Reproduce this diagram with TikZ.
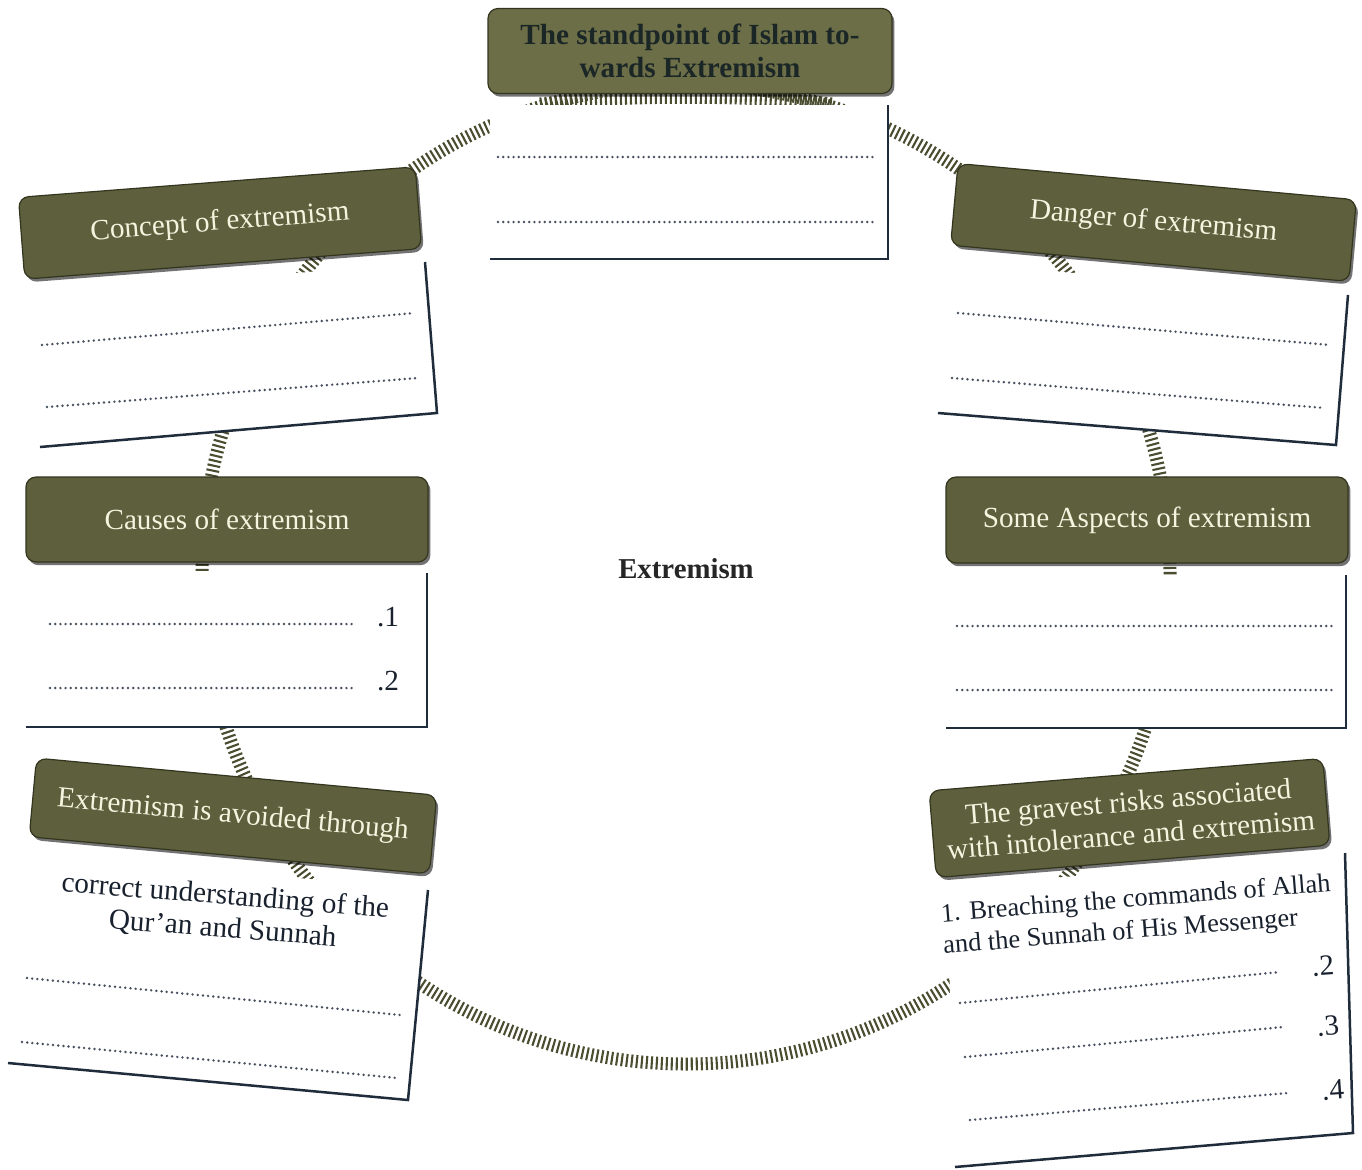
\documentclass[tikz,border=0pt]{standalone}
\usepackage{fontspec}
\setmainfont{Liberation Serif}
\usetikzlibrary{shadows}

\definecolor{tickcol}{HTML}{4B4D30}
\definecolor{boxolive}{HTML}{5D5F3D}
\definecolor{titleolive}{HTML}{6C6E47}
\definecolor{boxedge}{HTML}{34351F}
\definecolor{boxtext}{HTML}{F6F3DF}
\definecolor{framecol}{HTML}{1F2C3B}
\definecolor{dotcol}{HTML}{48505F}
\definecolor{inkcol}{HTML}{18212D}
\definecolor{titleink}{HTML}{1B2626}

\begin{document}
\begin{tikzpicture}[x=0.5pt,y=-0.5pt,
  ring/.style={draw=tickcol, line width=6.5pt, dash pattern=on 1.05pt off 1.45pt},
  frame/.style={draw=framecol, line width=1.25pt, line join=miter},
  dotline/.style={draw=dotcol, line width=1.35pt, line cap=round, dash pattern=on 0pt off 2.6pt},
  obox/.style={rectangle, rounded corners=5pt, fill=boxolive, draw=boxedge, line width=0.6pt,
    text=boxtext, align=center, inner sep=2pt,
    font={\fontsize{14.6pt}{16.5pt}\selectfont},
    drop shadow={shadow xshift=1.2pt, shadow yshift=-1.6pt, opacity=0.55, fill=black}},
  anstext/.style={text=inkcol, font={\fontsize{14.6pt}{16.5pt}\selectfont}, inner sep=0pt},
  numlabel/.style={text=inkcol, font={\fontsize{14.6pt}{16pt}\selectfont}, inner sep=0pt}]

\useasboundingbox (0,0) rectangle (1362,1169);
\fill[white] (0,0) rectangle (1362,1169);

% ---- the hatched ring linking all topics ----
\draw[ring] (686,574) ellipse [x radius=242pt, y radius=245pt];
\draw[ring] (540,104) .. controls (620,95) and (752,95) .. (832,104);

% ---- answer panels (white, with an L-shaped frame) ----
% standpoint
\coordinate (t0) at (490,105); \coordinate (t1) at (888,105);
\coordinate (t2) at (888,259); \coordinate (t3) at (490,259);
\fill[white] (t0) -- (t1) -- (t2) -- (t3) -- cycle;
\draw[frame] (t1) -- (t2) -- (t3);
\draw[dotline] (498,157) -- (876,157);
\draw[dotline] (498,222) -- (876,222);

% concept
\coordinate (c0) at (28,296); \coordinate (c1) at (425,262);
\coordinate (c2) at (437,413); \coordinate (c3) at (40,447);
\fill[white] (c0) -- (c1) -- (c2) -- (c3) -- cycle;
\draw[frame] (c1) -- (c2) -- (c3);
\draw[dotline] (42,345) -- (415,313);
\draw[dotline] (47,407) -- (418,378);

% danger
\coordinate (d0) at (950,263); \coordinate (d1) at (1348,295);
\coordinate (d2) at (1336,445); \coordinate (d3) at (938,413);
\fill[white] (d0) -- (d1) -- (d2) -- (d3) -- cycle;
\draw[frame] (d1) -- (d2) -- (d3);
\draw[dotline] (958,313) -- (1330,345);
\draw[dotline] (952,378) -- (1325,408);

% causes
\coordinate (k0) at (26,573); \coordinate (k1) at (427,573);
\coordinate (k2) at (427,727); \coordinate (k3) at (26,727);
\fill[white] (k0) -- (k1) -- (k2) -- (k3) -- cycle;
\draw[frame] (k1) -- (k2) -- (k3);
\draw[dotline] (50,624) -- (352,624);
\draw[dotline] (50,688) -- (352,688);
\node[numlabel] (k-n1) at (388,617) {.1};
\node[numlabel] (k-n2) at (388,681) {.2};

% aspects
\coordinate (s0) at (946,575); \coordinate (s1) at (1346,575);
\coordinate (s2) at (1346,728); \coordinate (s3) at (946,728);
\fill[white] (s0) -- (s1) -- (s2) -- (s3) -- cycle;
\draw[frame] (s1) -- (s2) -- (s3);
\draw[dotline] (957,626) -- (1333,626);
\draw[dotline] (957,690) -- (1333,690);

% avoided through
\coordinate (v0) at (28,853); \coordinate (v1) at (428,890);
\coordinate (v2) at (408,1100); \coordinate (v3) at (8,1063);
\fill[white] (v0) -- (v1) -- (v2) -- (v3) -- cycle;
\draw[frame] (v1) -- (v2) -- (v3);
\node[anstext, align=center, rotate=-4.5] (v-text) at (224,913)
  {correct understanding of the\\Qur’an and Sunnah};
\draw[dotline] (27,978) -- (400,1015);
\draw[dotline] (22,1042) -- (397,1078);

% gravest risks
\coordinate (g0) at (947,887); \coordinate (g1) at (1345,853);
\coordinate (g2) at (1353,1133); \coordinate (g3) at (955,1167);
\fill[white] (g0) -- (g1) -- (g2) -- (g3) -- cycle;
\draw[frame] (g1) -- (g2) -- (g3);
\node[anstext, align=left, rotate=4.5, font={\fontsize{13.2pt}{15.8pt}\selectfont}] (g-text) at (1137,916)
  {1. Breaching the commands of Allah\\and the Sunnah of His Messenger};
\draw[dotline] (960,1003) -- (1280,972);
\draw[dotline] (965,1057) -- (1283,1027);
\draw[dotline] (970,1120) -- (1288,1093);
\node[numlabel, rotate=4] (g-n2) at (1323,966) {.2};
\node[numlabel, rotate=4] (g-n3) at (1328,1026) {.3};
\node[numlabel, rotate=4] (g-n4) at (1333,1090) {.4};

% ---- topic headers ----
\node[obox, fill=titleolive, text=titleink, minimum width=202pt, minimum height=42.5pt,
  font={\fontsize{14.6pt}{16.5pt}\selectfont\bfseries}] (title) at (690,51)
  {The standpoint of Islam to-\\wards Extremism};
\node[obox, minimum width=199pt, minimum height=41pt, rotate=4.4] (concept) at (220,223)
  {Concept of extremism};
\node[obox, minimum width=200pt, minimum height=41pt, rotate=-5.2] (danger) at (1153.5,222.5)
  {Danger of extremism};
\node[obox, minimum width=201pt, minimum height=42.5pt] (causes) at (227,519.5)
  {Causes of extremism};
\node[obox, minimum width=201pt, minimum height=43pt] (aspects) at (1147,520)
  {Some Aspects of extremism};
\node[obox, minimum width=201pt, minimum height=39.5pt, rotate=-5.3] (avoided) at (233,816)
  {Extremism is avoided through};
\node[obox, minimum width=197.5pt, minimum height=43.5pt, rotate=4.7] (gravest) at (1129.5,818)
  {The gravest risks associated\\with intolerance and extremism};

% ---- central topic ----
\node[text=black!85, font={\fontsize{14.4pt}{16pt}\selectfont\bfseries}] (centre) at (686,569) {Extremism};

\end{tikzpicture}
\end{document}
